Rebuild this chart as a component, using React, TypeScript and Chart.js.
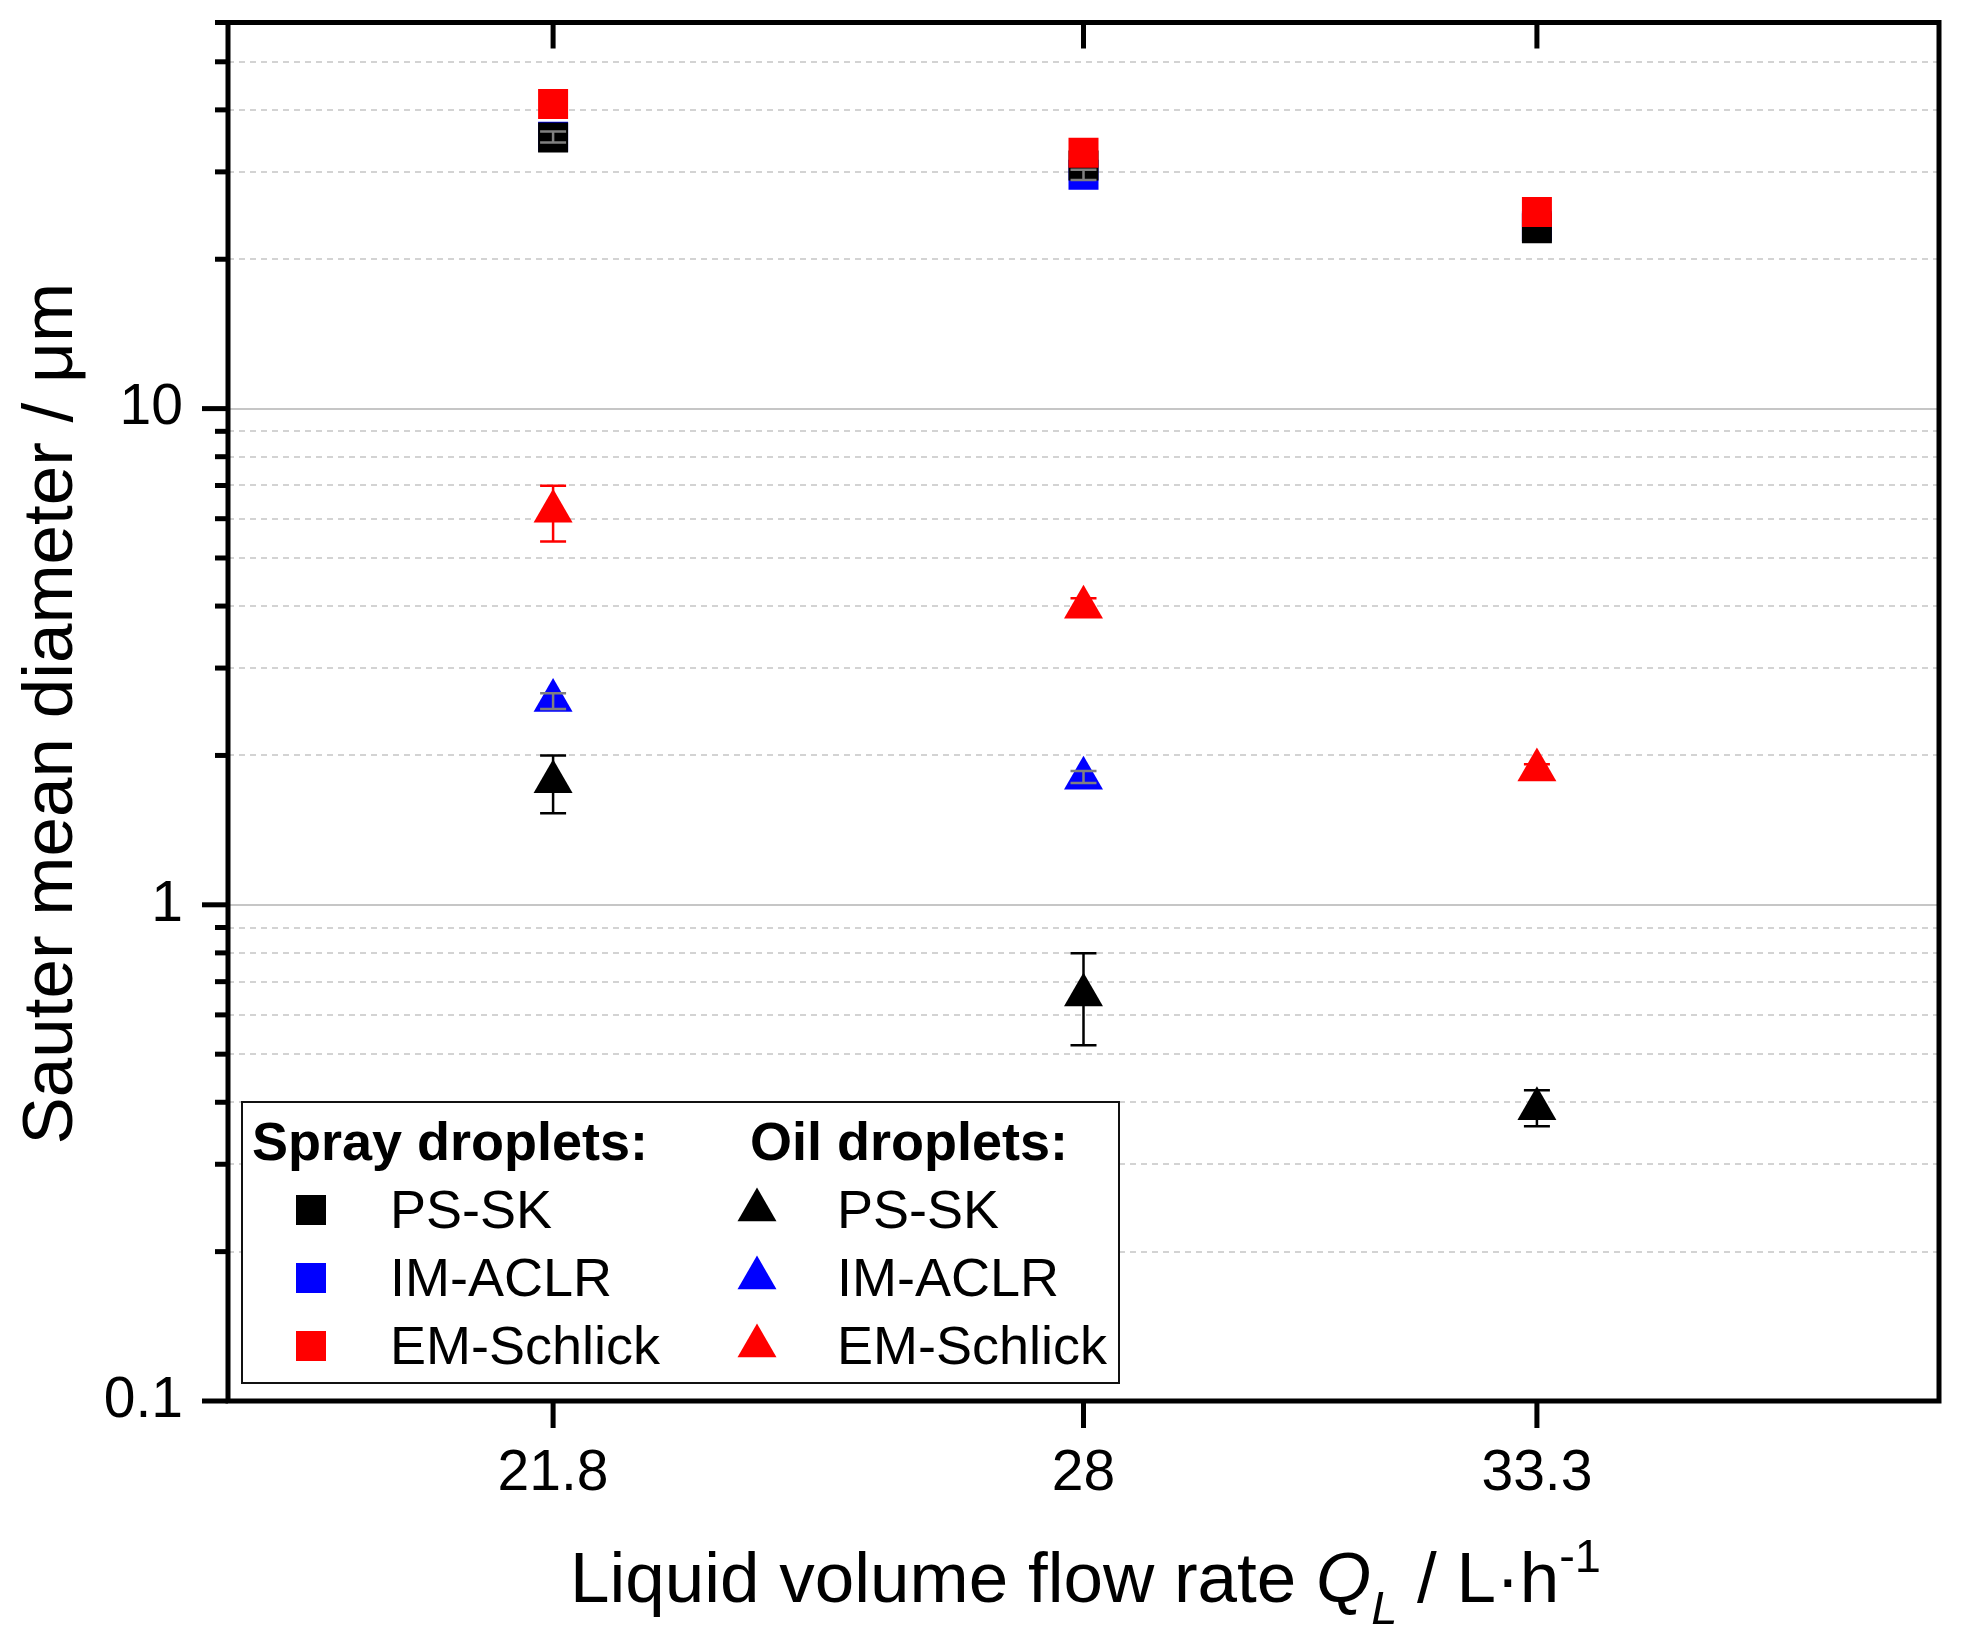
import React, { useEffect, useRef } from 'react';
import { Chart, registerables } from 'chart.js';

Chart.register(...registerables);

const FONT = "'Liberation Sans', Arial, Helvetica, sans-serif";

// ---------- data ----------
const flowRates = [21.8, 28, 33.3];
const xTickLabels = ['21.8', '28', '33.3'];
const yMajorTicks = [0.1, 1, 10];
const yTickLabels = ['0.1', '1', '10'];
const seriesNames = ['PS-SK', 'IM-ACLR', 'EM-Schlick'];
const legendHeaders = ['Spray droplets:', 'Oil droplets:'];

// Spray droplets (squares)
const sprayPSSK = [35.2, 30.9, 23.1];
const sprayIMACLR = [35.3, 29.6, 23.3];
const sprayIMACLRLow = [34.4, 28.9, null];
const sprayIMACLRHigh = [36.2, 30.3, null];
const sprayEMSchlick = [41.1, 32.8, 24.9];

// Oil droplets (triangles)
const oilPSSK = [1.77, 0.658, 0.388];
const oilPSSKLow = [1.53, 0.521, 0.358];
const oilPSSKHigh = [2.0, 0.799, 0.423];
const oilIMACLR = [2.58, 1.8, null];
const oilIMACLRLow = [2.48, 1.76, null];
const oilIMACLRHigh = [2.67, 1.86, null];
const oilEMSchlick = [6.21, 3.98, 1.87];
const oilEMSchlickLow = [5.4, 3.82, 1.83];
const oilEMSchlickHigh = [6.99, 4.15, 1.92];

// ---------- styles ----------
const BLACK = '#000000';
const BLUE = '#0000ff';
const RED = '#ff0000';
const ERR_GRAY = '#808080';
const seriesColors = [BLACK, BLUE, RED];
const SQUARE_R = 30 / Math.SQRT2;
const TRI_R = 22.5;

const toPoints = (ys: (number | null)[]) =>
  flowRates
    .map((x, i) => (ys[i] == null ? null : { x, y: ys[i] as number }))
    .filter((p) => p !== null);

const errorSets = [
  { low: sprayIMACLRLow, high: sprayIMACLRHigh, color: ERR_GRAY },
  { low: oilIMACLRLow, high: oilIMACLRHigh, color: ERR_GRAY },
  { low: oilPSSKLow, high: oilPSSKHigh, color: BLACK },
  { low: oilEMSchlickLow, high: oilEMSchlickHigh, color: RED },
];

const isMajor = (v: number) => yMajorTicks.some((m) => Math.abs(v - m) / m < 1e-6);
const isIntegerMantissa = (v: number) => {
  const m = v / Math.pow(10, Math.floor(Math.log10(v) + 1e-9));
  return Math.abs(m - Math.round(m)) < 1e-6;
};

function drawTriangle(ctx: CanvasRenderingContext2D, cx: number, cy: number, r: number) {
  const s = Math.sin((2 * Math.PI) / 3) * r;
  ctx.beginPath();
  ctx.moveTo(cx, cy - r);
  ctx.lineTo(cx + s, cy + r / 2);
  ctx.lineTo(cx - s, cy + r / 2);
  ctx.closePath();
  ctx.fill();
}

const customPlugin = {
  id: 'customDecor',
  beforeDatasetsDraw(chart: any) {
    const { ctx, chartArea: a } = chart;
    const y = chart.scales.y;
    ctx.save();
    ctx.lineWidth = 2;
    y.ticks.forEach((t: any) => {
      const py = Math.round(y.getPixelForValue(t.value));
      if (py < a.top + 4 || py > a.bottom - 4) return;
      const major = isMajor(t.value);
      ctx.strokeStyle = major ? '#c6c6c6' : '#d3d3d3';
      ctx.setLineDash(major ? [] : [6, 5]);
      ctx.beginPath();
      ctx.moveTo(a.left, py);
      ctx.lineTo(a.right, py);
      ctx.stroke();
    });
    ctx.restore();
  },
  afterDatasetsDraw(chart: any) {
    const { ctx } = chart;
    const x = chart.scales.x;
    const y = chart.scales.y;
    // error bars
    ctx.save();
    ctx.lineWidth = 2.5;
    ctx.setLineDash([]);
    errorSets.forEach((es) => {
      ctx.strokeStyle = es.color;
      flowRates.forEach((fx, i) => {
        const lo = es.low[i];
        const hi = es.high[i];
        if (lo == null || hi == null) return;
        const px = x.getPixelForValue(fx);
        const pl = y.getPixelForValue(lo);
        const ph = y.getPixelForValue(hi);
        ctx.beginPath();
        ctx.moveTo(px, ph);
        ctx.lineTo(px, pl);
        ctx.moveTo(px - 13, ph);
        ctx.lineTo(px + 13, ph);
        ctx.moveTo(px - 13, pl);
        ctx.lineTo(px + 13, pl);
        ctx.stroke();
      });
    });
    ctx.restore();

    // legend
    ctx.save();
    const L = { x: 242, y: 1102, w: 877, h: 281 };
    ctx.fillStyle = '#ffffff';
    ctx.fillRect(L.x, L.y, L.w, L.h);
    ctx.lineWidth = 2;
    ctx.strokeStyle = '#111111';
    ctx.strokeRect(L.x, L.y, L.w, L.h);
    ctx.fillStyle = '#000000';
    ctx.textAlign = 'left';
    ctx.textBaseline = 'alphabetic';
    ctx.font = `bold 54px ${FONT}`;
    ctx.fillText(legendHeaders[0], L.x + 10, L.y + 58);
    ctx.fillText(legendHeaders[1], L.x + 508, L.y + 58);
    ctx.font = `54px ${FONT}`;
    seriesNames.forEach((name, i) => {
      const cy = L.y + 108 + i * 68;
      ctx.fillStyle = seriesColors[i];
      ctx.fillRect(L.x + 54, cy - 15, 30, 30);
      drawTriangle(ctx, L.x + 515, cy, TRI_R);
      ctx.fillStyle = '#000000';
      ctx.fillText(name, L.x + 148, cy + 18);
      ctx.fillText(name, L.x + 595, cy + 18);
    });
    ctx.restore();
  },
  afterDraw(chart: any) {
    const { ctx, chartArea: a } = chart;
    const x = chart.scales.x;
    const y = chart.scales.y;
    ctx.save();
    ctx.strokeStyle = '#000000';
    ctx.lineWidth = 5;
    ctx.setLineDash([]);
    ctx.lineCap = 'butt';
    // ticks on left axis
    y.ticks.forEach((t: any) => {
      const py = y.getPixelForValue(t.value);
      const len = isMajor(t.value) ? 26 : 13;
      ctx.beginPath();
      ctx.moveTo(a.left - len, py);
      ctx.lineTo(a.left, py);
      ctx.stroke();
    });
    // ticks on bottom (outward) and top (inward)
    x.ticks.forEach((t: any) => {
      const px = x.getPixelForValue(t.value);
      ctx.beginPath();
      ctx.moveTo(px, a.bottom);
      ctx.lineTo(px, a.bottom + 27);
      ctx.moveTo(px, a.top);
      ctx.lineTo(px, a.top + 26);
      ctx.stroke();
    });
    // frame
    ctx.lineJoin = 'miter';
    ctx.strokeRect(a.left, a.top, a.right - a.left, a.bottom - a.top);
    ctx.restore();

    // y axis title
    ctx.save();
    ctx.fillStyle = '#000000';
    ctx.font = `71px ${FONT}`;
    ctx.textAlign = 'center';
    ctx.textBaseline = 'alphabetic';
    ctx.translate(72, (a.top + a.bottom) / 2 + 2);
    ctx.rotate(-Math.PI / 2);
    ctx.fillText('Sauter mean diameter / \u03bcm', 0, 0);
    ctx.restore();

    // x axis title (rich text)
    ctx.save();
    ctx.fillStyle = '#000000';
    ctx.textAlign = 'left';
    ctx.textBaseline = 'alphabetic';
    const parts = [
      { t: 'Liquid volume flow rate ', f: `71px ${FONT}`, dy: 0 },
      { t: 'Q', f: `italic 71px ${FONT}`, dy: 0 },
      { t: 'L', f: `italic 47px ${FONT}`, dy: 22 },
      { t: ' / L\u00b7h', f: `71px ${FONT}`, dy: 0 },
      { t: '-1', f: `47px ${FONT}`, dy: -30 },
    ];
    let total = 0;
    const widths = parts.map((p) => {
      ctx.font = p.f;
      const w = ctx.measureText(p.t).width;
      total += w;
      return w;
    });
    let cx = (a.left + a.right) / 2 + 2 - total / 2;
    const baseY = 1602;
    parts.forEach((p, i) => {
      ctx.font = p.f;
      ctx.fillText(p.t, cx, baseY + p.dy);
      cx += widths[i];
    });
    ctx.restore();
  },
};

export default function App() {
  const ref = useRef<HTMLCanvasElement>(null);
  useEffect(() => {
    document.body.style.margin = '0';
    document.body.style.overflow = 'hidden';
    const canvas = ref.current;
    if (!canvas) return;
    const mk = (label: string, data: (number | null)[], color: string, style: string, r: number, order: number) => ({
      label,
      data: toPoints(data),
      showLine: false,
      pointStyle: style,
      pointRadius: r,
      pointHoverRadius: r,
      pointBackgroundColor: color,
      pointBorderColor: color,
      pointBorderWidth: 0,
      pointHoverBorderWidth: 0,
      order,
    });
    const chart = new Chart(canvas, {
      type: 'scatter',
      data: {
        datasets: [
          mk('Spray ' + seriesNames[2], sprayEMSchlick, RED, 'rect', SQUARE_R, 0),
          mk('Spray ' + seriesNames[0], sprayPSSK, BLACK, 'rect', SQUARE_R, 1),
          mk('Spray ' + seriesNames[1], sprayIMACLR, BLUE, 'rect', SQUARE_R, 2),
          mk('Oil ' + seriesNames[2], oilEMSchlick, RED, 'triangle', TRI_R, 3),
          mk('Oil ' + seriesNames[0], oilPSSK, BLACK, 'triangle', TRI_R, 4),
          mk('Oil ' + seriesNames[1], oilIMACLR, BLUE, 'triangle', TRI_R, 5),
        ] as any,
      },
      options: {
        animation: false,
        responsive: true,
        maintainAspectRatio: false,
        devicePixelRatio: 1,
        events: [],
        layout: { padding: { top: 21, right: 24, bottom: 0, left: 0 } },
        plugins: {
          legend: { display: false },
          tooltip: { enabled: false },
          title: { display: false },
        },
        scales: {
          x: {
            type: 'linear',
            min: 18,
            max: 38,
            grid: { display: false, drawTicks: false },
            border: { display: false },
            afterBuildTicks: (scale: any) => {
              scale.ticks = flowRates.map((v) => ({ value: v }));
            },
            afterFit: (scale: any) => {
              scale.height = 236;
              scale.paddingLeft = 0;
              scale.paddingRight = 0;
              scale.paddingTop = 0;
              scale.paddingBottom = 0;
            },
            ticks: {
              autoSkip: false,
              maxRotation: 0,
              minRotation: 0,
              padding: 39,
              color: '#000000',
              font: { family: FONT, size: 57 },
              callback: (v: any) => {
                const i = flowRates.findIndex((f) => Math.abs(f - Number(v)) < 1e-6);
                return i >= 0 ? xTickLabels[i] : '';
              },
            },
          },
          y: {
            type: 'logarithmic',
            min: 0.1,
            max: 60,
            grid: { display: false, drawTicks: false },
            border: { display: false },
            afterBuildTicks: (scale: any) => {
              scale.ticks = scale.ticks.filter((t: any) => isIntegerMantissa(t.value));
            },
            afterFit: (scale: any) => {
              scale.width = 228;
              scale.paddingLeft = 0;
              scale.paddingRight = 0;
              scale.paddingTop = 0;
              scale.paddingBottom = 0;
            },
            ticks: {
              autoSkip: false,
              padding: 45,
              color: '#000000',
              font: { family: FONT, size: 57 },
              callback: (v: any) => {
                const i = yMajorTicks.findIndex((m) => Math.abs(Number(v) - m) / m < 1e-6);
                return i >= 0 ? yTickLabels[i] : '';
              },
            },
          },
        },
      } as any,
      plugins: [customPlugin as any],
    });
    return () => chart.destroy();
  }, []);
  return (
    <div style={{ width: 1963, height: 1637, position: 'relative', background: '#ffffff' }}>
      <canvas ref={ref} style={{ display: 'block' }} />
    </div>
  );
}
